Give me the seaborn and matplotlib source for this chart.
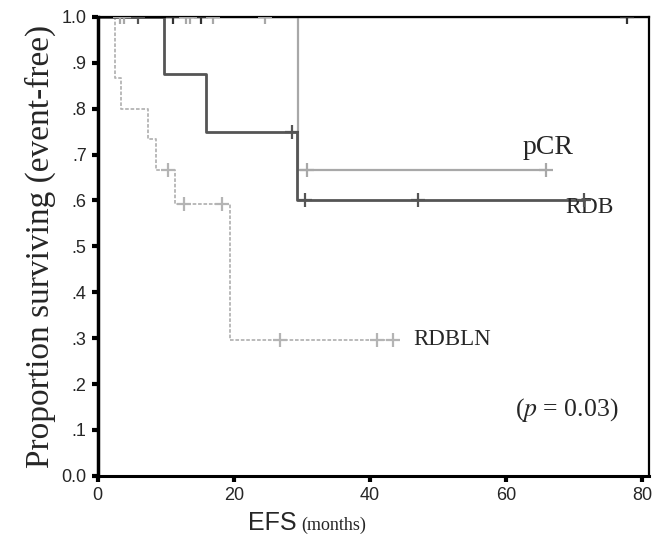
import pandas as pd
import numpy as np
import seaborn as sns
import matplotlib.pyplot as plt

# step curves: (time of drop, survival after drop)
rdbln_t = [0, 2.6, 3.4, 7.4, 8.5, 11.3, 19.4, 43.4]
rdbln_s = [1.0, 0.867, 0.800, 0.733, 0.667, 0.593, 0.296, 0.296]
rdbln_cens_t = [10.3, 12.6, 18.2, 26.8, 41.1, 43.4]
rdbln_cens_s = [0.667, 0.593, 0.593, 0.296, 0.296, 0.296]

rdb_t = [0, 9.7, 15.9, 29.3, 71.5]
rdb_s = [1.0, 0.875, 0.750, 0.600, 0.600]
rdb_cens_t = [5.9, 28.6, 30.5, 47.1, 71.5]
rdb_cens_s = [1.0, 0.750, 0.600, 0.600, 0.600]

pcr_t = [0, 29.5, 65.9]
pcr_s = [1.0, 0.667, 0.667]
pcr_cens_t = [3.2, 3.9, 12.9, 13.6, 16.9, 24.6, 30.8, 65.9]
pcr_cens_s = [1.0, 1.0, 1.0, 1.0, 1.0, 1.0, 0.667, 0.667]

other_t = [0, 81]
other_s = [1.0, 1.0]
other_cens_t = [11.1, 15.2, 77.8]
other_cens_s = [1.0, 1.0, 1.0]

xticks = [0, 20, 40, 60, 80]
yticks = [0.0, 0.1, 0.2, 0.3, 0.4, 0.5, 0.6, 0.7, 0.8, 0.9, 1.0]
ytick_labels = ['0.0', '.1', '.2', '.3', '.4', '.5', '.6', '.7', '.8', '.9', '1.0']

sns.set_style('white')
plt.rcParams['font.family'] = ['Liberation Sans', 'DejaVu Sans']

fig = plt.figure(figsize=(6.52, 5.42), dpi=100)
ax = fig.add_axes([0.150, 0.122, 0.845, 0.847])

curves = [
    (other_t, other_s, other_cens_t, other_cens_s, '#333333', '-', 1.6),
    (rdbln_t, rdbln_s, rdbln_cens_t, rdbln_cens_s, '#b4b4b4', (0, (2, 1)), 1.3),
    (pcr_t, pcr_s, pcr_cens_t, pcr_cens_s, '#a8a8a8', '-', 1.6),
    (rdb_t, rdb_s, rdb_cens_t, rdb_cens_s, '#555555', '-', 2.0),
]
for t, s, ct, cs, col, ls, lw in curves:
    df = pd.DataFrame({'t': t, 's': s})
    sns.lineplot(data=df, x='t', y='s', ax=ax, color=col, linestyle=ls,
                 linewidth=lw, drawstyle='steps-post', estimator=None, sort=False)
    cdf = pd.DataFrame({'t': ct, 's': cs})
    sns.scatterplot(data=cdf, x='t', y='s', ax=ax, marker='+', s=110,
                    color=col, linewidth=1.6, zorder=5)

ax.set_xlim(0, 81)
ax.set_ylim(0, 1.0)
ax.set_xticks(xticks)
ax.set_yticks(yticks)
ax.set_yticklabels(ytick_labels)
ax.tick_params(axis='both', direction='out', length=4, width=3, labelsize=13,
               color='black', pad=4, left=True, bottom=True)
for sp in ax.spines.values():
    sp.set_color('black')
    sp.set_linewidth(1.6)
ax.spines['left'].set_linewidth(2.5)
ax.spines['bottom'].set_linewidth(2.2)

ax.set_xlabel('')
ax.set_ylabel('Proportion surviving (event-free)', family='Liberation Serif',
              fontsize=24, labelpad=4)
fig.text(0.455, 0.022, 'EFS', fontsize=18, ha='right', va='baseline')
fig.text(0.462, 0.022, '(months)', fontsize=13, family='Liberation Serif',
         ha='left', va='baseline')

serif = 'Liberation Serif'
ax.text(62.4, 0.715, 'pCR', family=serif, fontsize=20, va='center')
ax.text(68.8, 0.584, 'RDB', family=serif, fontsize=17, va='center')
ax.text(46.4, 0.296, 'RDBLN', family=serif, fontsize=16.5, va='center')
ax.text(61.4, 0.144, r'($p$ = 0.03)', family=serif, fontsize=18.5, va='center',
        math_fontfamily='stix')

fig.savefig('out.png', dpi=100)
